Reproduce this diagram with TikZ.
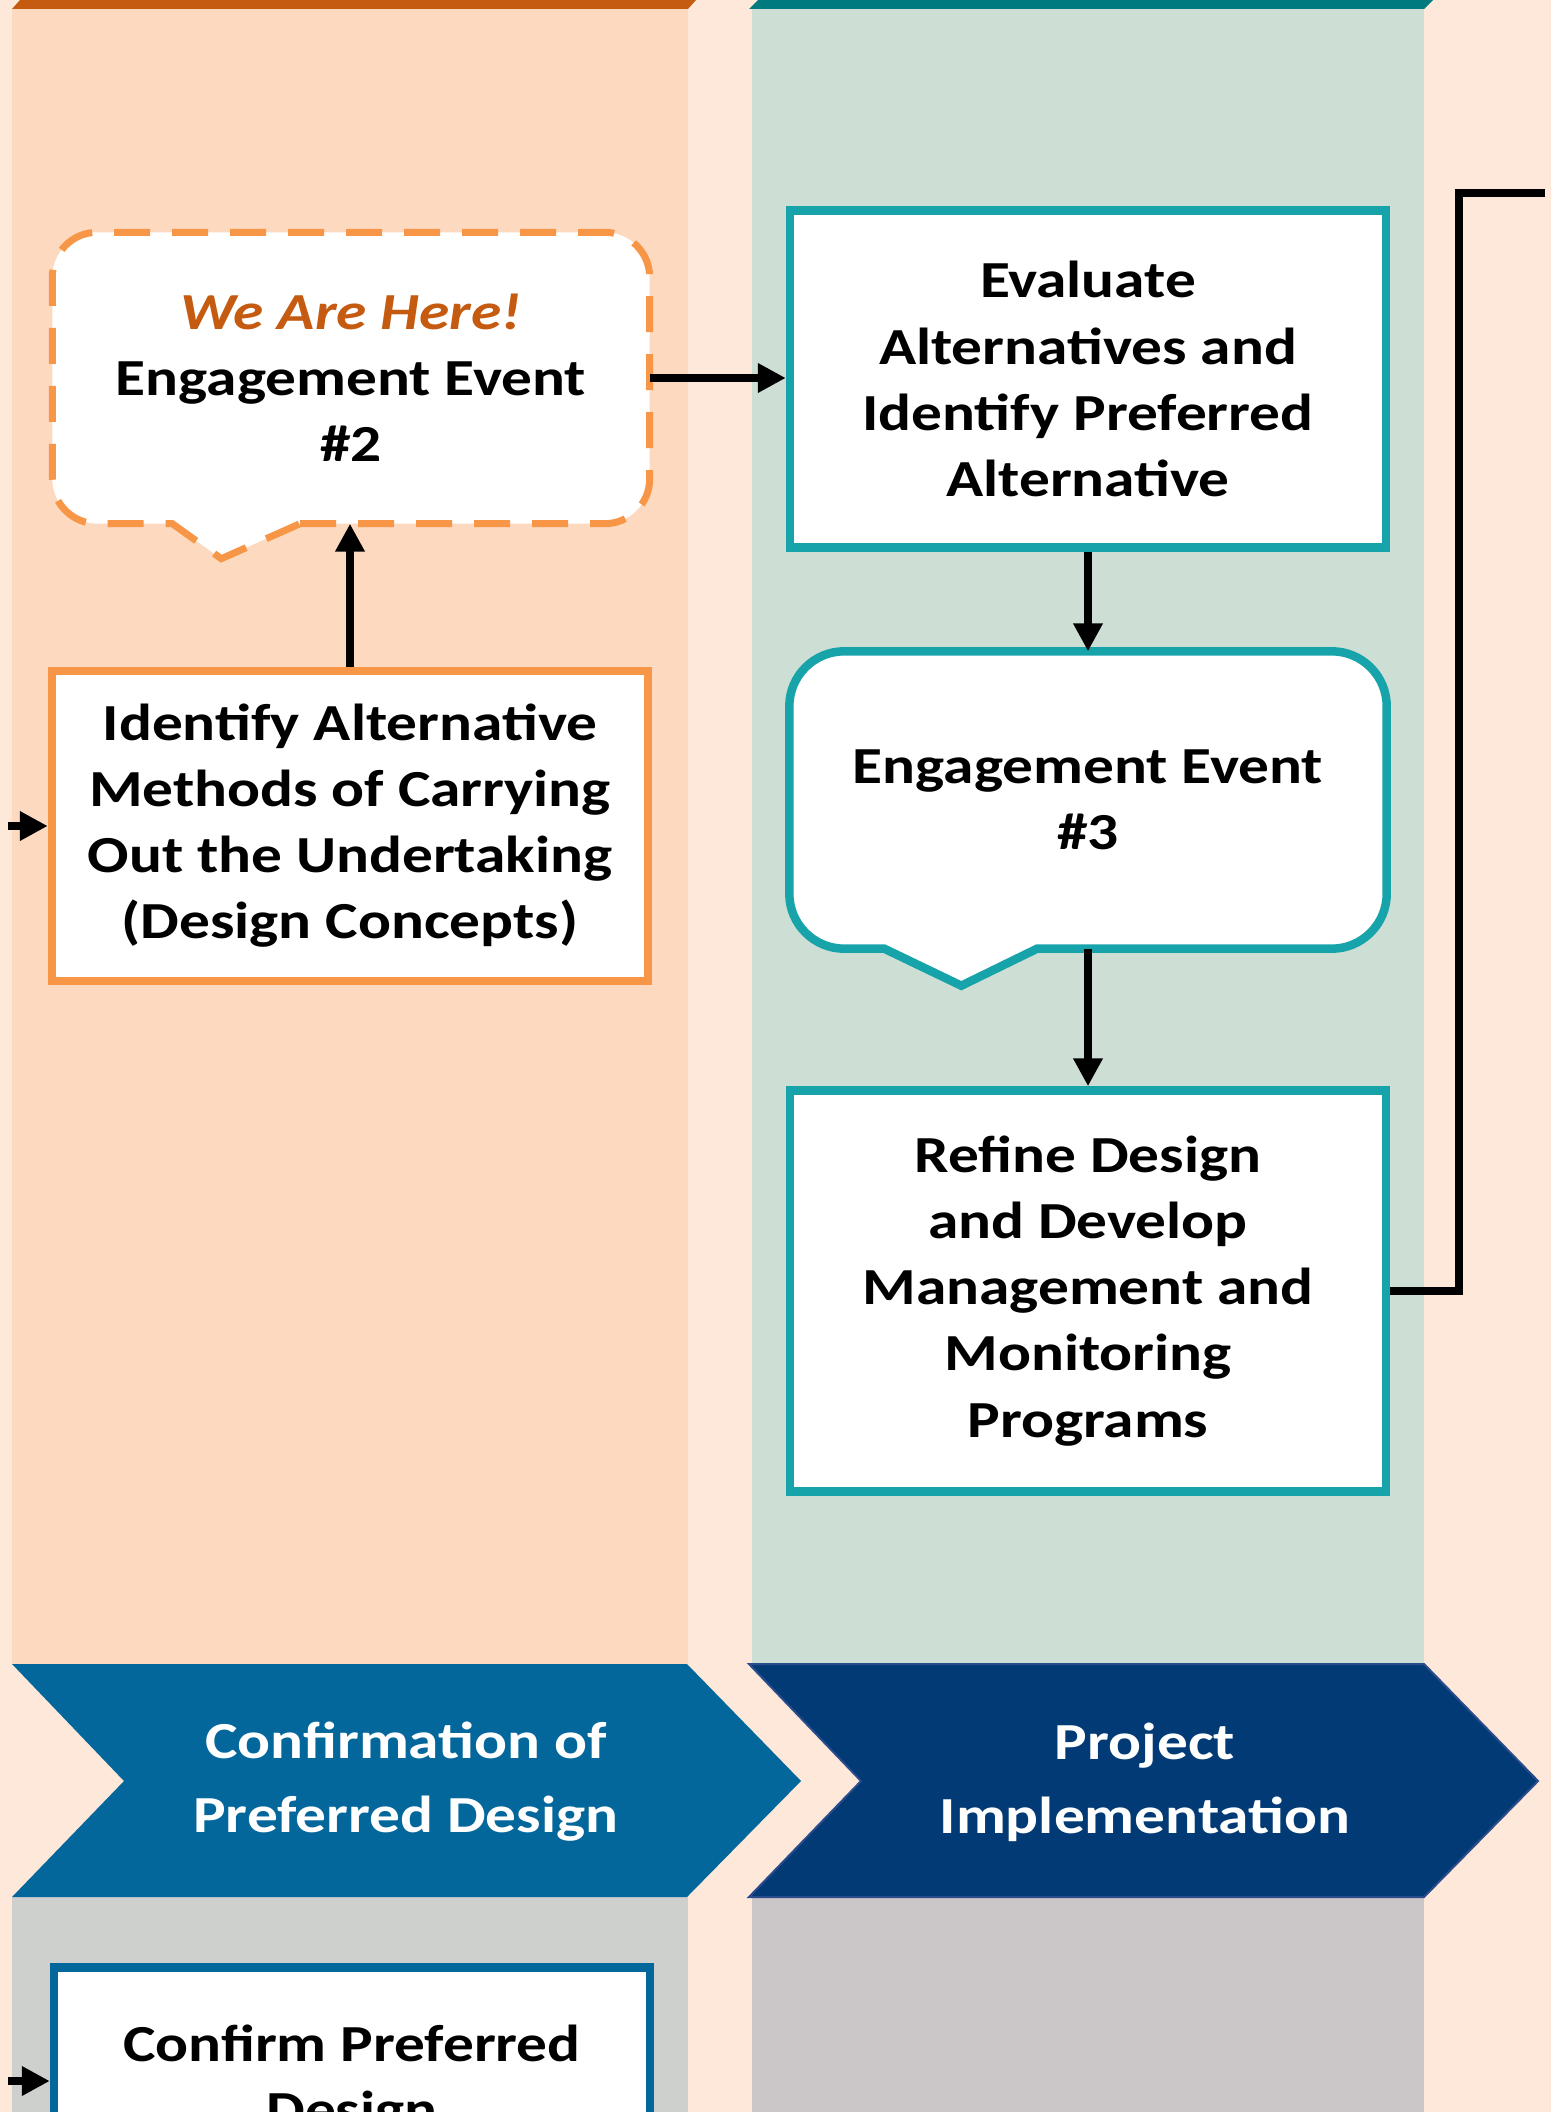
\documentclass[tikz,border=0pt]{standalone}
\usepackage{fontspec}
\setmainfont{Carlito}[FakeStretch=1.18]
\usetikzlibrary{arrows.meta,backgrounds}

\definecolor{pagebg}{HTML}{FEE8DA}
\definecolor{peachcol}{HTML}{FDD9C0}
\definecolor{sagecol}{HTML}{CDDFD5}
\definecolor{greyleft}{HTML}{CED0CE}
\definecolor{greyright}{HTML}{CBC7C8}
\definecolor{rust}{HTML}{C55A11}
\definecolor{darkteal}{HTML}{007A7E}
\definecolor{orangeline}{HTML}{F79646}
\definecolor{tealline}{HTML}{17A3AA}
\definecolor{stepblue}{HTML}{03679C}
\definecolor{navy}{HTML}{013A74}
\definecolor{navyedge}{HTML}{2B4C8C}

\tikzset{
  boxtext/.style={font=\fontsize{14.8}{18.8}\selectfont\bfseries, align=center},
  stepbox/.style={boxtext, draw, line width=0.85mm, fill=white,
    minimum width=59.6mm, inner sep=0pt},
  orangebox/.style={stepbox, draw=orangeline},
  tealbox/.style={stepbox, draw=tealline},
  bluebox/.style={stepbox, draw=stepblue},
  eventbox/.style={boxtext, minimum width=59.6mm, inner sep=0pt},
  phasetext/.style={font=\fontsize{14.8}{21}\selectfont\bfseries, align=center, text=white},
  arr/.style={line width=0.8mm, -{Triangle[length=2.8mm,width=2.8mm]}},
  link/.style={line width=0.85mm},
}

\begin{document}
\begin{tikzpicture}[x=0.1mm, y=-0.1mm]
  \useasboundingbox (0,0) rectangle (1551,2112);

  % page, swim lanes and phase arrows
  \begin{scope}[on background layer]
    \fill[pagebg] (0,0) rectangle (1551,2112);
    \fill[peachcol] (12,9) rectangle (688,1664);
    \fill[sagecol] (752,9) rectangle (1424,1664);
    \fill[greyleft] (12,1897) rectangle (688,2112);
    \fill[greyright] (752,1897) rectangle (1424,2112);
    % ends of the phase arrows above
    \fill[rust] (20,0) -- (696,0) -- (688,9) -- (12,9) -- cycle;
    \fill[darkteal] (758,0) -- (1433,0) -- (1424,9) -- (749,9) -- cycle;
    % phase arrows
    \fill[stepblue] (12,1664) -- (687,1664) -- (801,1781) -- (687,1897)
      -- (12,1897) -- (124,1781) -- cycle;
    \filldraw[fill=navy, draw=navyedge, line width=0.2mm] (749,1664) -- (1424,1664)
      -- (1538,1781) -- (1424,1897) -- (749,1897) -- (861,1781) -- cycle;
  \end{scope}

  % boxes
  \node[eventbox, minimum height=29mm] (ee2) at (351,378)
    {\textcolor{rust}{\textit{We Are Here!}}\\Engagement Event\\\#2};
  \node[orangebox, minimum height=31mm] (ident) at (350,826)
    {Identify Alternative\\Methods of Carrying\\Out the Undertaking\\(Design Concepts)};
  \node[tealbox, minimum height=33.7mm] (eval) at (1088,379)
    {Evaluate\\Alternatives and\\Identify Preferred\\Alternative};
  \node[eventbox, minimum height=29.6mm] (ee3) at (1088,800)
    {Engagement Event\\\#3};
  \node[tealbox, minimum height=40.1mm] (refine) at (1088,1291)
    {Refine Design\\and Develop\\Management and\\Monitoring\\Programs};
  \node[bluebox, minimum height=22.7mm] (confirm) at (352,2081)
    {Confirm Preferred\\Design};

  % phase labels
  \node[phasetext] (phase3) at (406,1782) {Confirmation of\\Preferred Design};
  \node[phasetext] (phase4) at (1145,1782) {Project\\Implementation};

  % speech bubbles behind the event texts
  \begin{scope}[on background layer]
    \draw[orangeline, line width=0.7mm, dash pattern=on 3.6mm off 2.2mm,
      fill=white, rounded corners=4.5mm]
      (ee2.south) ++(-51,0) -- (ee2.south east) -- (ee2.north east)
      -- (ee2.north west) -- (ee2.south west)
      [sharp corners] -- ++(120,0) -- ++(49,35) -- cycle;
    \draw[tealline, line width=0.85mm, fill=white, rounded corners=5.5mm]
      (ee3.south) ++(-51,0) -- (ee3.south east) -- (ee3.north east)
      -- (ee3.north west) -- (ee3.south west)
      [sharp corners] -- ++(95,0) -- ++(77,37) -- cycle;
  \end{scope}

  % connectors
  \coordinate (inleft) at (8,826);
  \coordinate (inconfirm) at (8,2081);
  \coordinate (bend) at (1459,193);
  \coordinate (outright) at (1545,193);

  \draw[arr] (inleft) -- (ident.west);
  \draw[arr] (ident.north) -- (ident.north |- ee2.south);
  \draw[arr] (ee2.east) -- (ee2.east -| eval.west);
  \draw[arr] (eval.south) -- (ee3.north);
  \draw[arr] (ee3.south) -- (refine.north);
  \draw[link] (refine.east) -| (bend) -- (outright);
  \draw[arr] (inconfirm) -- (confirm.west);
\end{tikzpicture}
\end{document}
